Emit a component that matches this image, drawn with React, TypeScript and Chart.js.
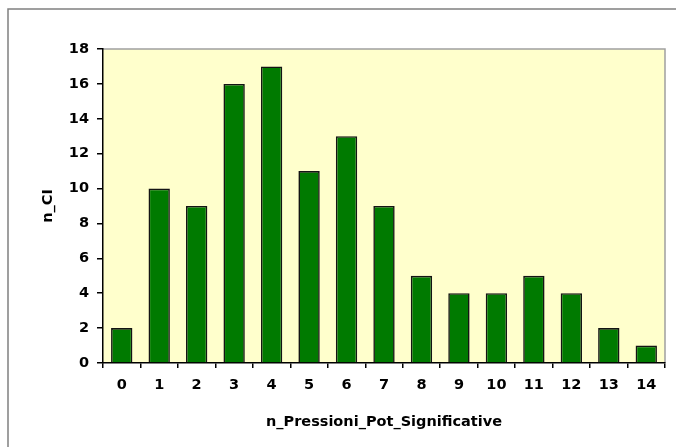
import React, { useEffect, useRef } from "react";
import { Chart, registerables } from "chart.js";

Chart.register(...registerables);

const categories = ["0", "1", "2", "3", "4", "5", "6", "7", "8", "9", "10", "11", "12", "13", "14"];
const counts = [2, 10, 9, 16, 17, 11, 13, 9, 5, 4, 4, 5, 4, 2, 1];
const yMin = 0;
const yMax = 18;
const yStep = 2;
const xTitle = "n_Pressioni_Pot_Significative";
const yTitle = "n_CI";

const FONT = "'DejaVu Sans', 'Liberation Sans', Arial, sans-serif";
const FSIZE = 14.5;

const framePlugin = {
  id: "framePlugin",
  beforeDraw(chart: any) {
    const { ctx, chartArea } = chart;
    ctx.save();
    ctx.fillStyle = "#ffffff";
    ctx.fillRect(0, 0, chart.width, chart.height);
    // outer frame
    ctx.strokeStyle = "#808080";
    ctx.lineWidth = 1.5;
    ctx.beginPath();
    ctx.moveTo(8, chart.height + 5);
    ctx.lineTo(8, 9);
    ctx.lineTo(chart.width + 5, 9);
    ctx.stroke();
    // plot background
    ctx.fillStyle = "#FFFFCC";
    ctx.fillRect(chartArea.left, chartArea.top, chartArea.right - chartArea.left, chartArea.bottom - chartArea.top);
    ctx.strokeStyle = "#a0a0a0";
    ctx.lineWidth = 1.5;
    ctx.beginPath();
    ctx.moveTo(chartArea.left, chartArea.top);
    ctx.lineTo(chartArea.right, chartArea.top);
    ctx.lineTo(chartArea.right, chartArea.bottom);
    ctx.stroke();
    ctx.restore();
  },
};

export default function App() {
  const ref = useRef<HTMLCanvasElement | null>(null);
  useEffect(() => {
    if (!ref.current) return;
    const chart = new Chart(ref.current, {
      type: "bar",
      data: {
        labels: categories,
        datasets: [
          {
            data: counts,
            backgroundColor: "#007a00",
            borderColor: "#141414",
            borderWidth: 1.6,
            barPercentage: 0.57,
            categoryPercentage: 1,
          },
        ],
      },
      options: {
        responsive: false,
        animation: false,
        devicePixelRatio: 1,
        layout: { padding: { left: 0, top: 49, right: 11, bottom: 0 } },
        plugins: { legend: { display: false }, tooltip: { enabled: false } },
        scales: {
          x: {
            offset: true,
            grid: {
              offset: true,
              drawOnChartArea: false,
              drawTicks: true,
              tickLength: 5,
              color: "#000000",
              lineWidth: 1.5,
            },
            border: { display: true, color: "#000000", width: 1.5 },
            ticks: {
              color: "#000000",
              font: { family: FONT, size: FSIZE, weight: "bold" },
              padding: 9,
              maxRotation: 0,
              autoSkip: false,
            },
            title: {
              display: true,
              text: xTitle,
              color: "#000000",
              font: { family: FONT, size: FSIZE, weight: "bold" },
              padding: { top: 0, bottom: 16 },
            },
            afterFit(scale: any) {
              scale.height = 84;
            },
          },
          y: {
            min: yMin,
            max: yMax,
            grid: {
              drawOnChartArea: false,
              drawTicks: true,
              tickLength: 6,
              color: "#000000",
              lineWidth: 1.5,
            },
            border: { display: true, color: "#000000", width: 1.5 },
            ticks: {
              stepSize: yStep,
              color: "#000000",
              font: { family: FONT, size: FSIZE, weight: "bold" },
              padding: 8,
            },
            title: {
              display: true,
              text: yTitle,
              color: "#000000",
              font: { family: FONT, size: FSIZE, weight: "bold" },
              padding: { top: 40, bottom: 0 },
            },
            afterFit(scale: any) {
              scale.width = 103;
            },
          },
        },
      },
      plugins: [framePlugin],
    });
    return () => chart.destroy();
  }, []);
  return (
    <div style={{ position: "fixed", left: 0, top: 0, width: 676, height: 447, background: "#fff" }}>
      <canvas ref={ref} width={676} height={447} style={{ display: "block", width: 676, height: 447 }} />
    </div>
  );
}
